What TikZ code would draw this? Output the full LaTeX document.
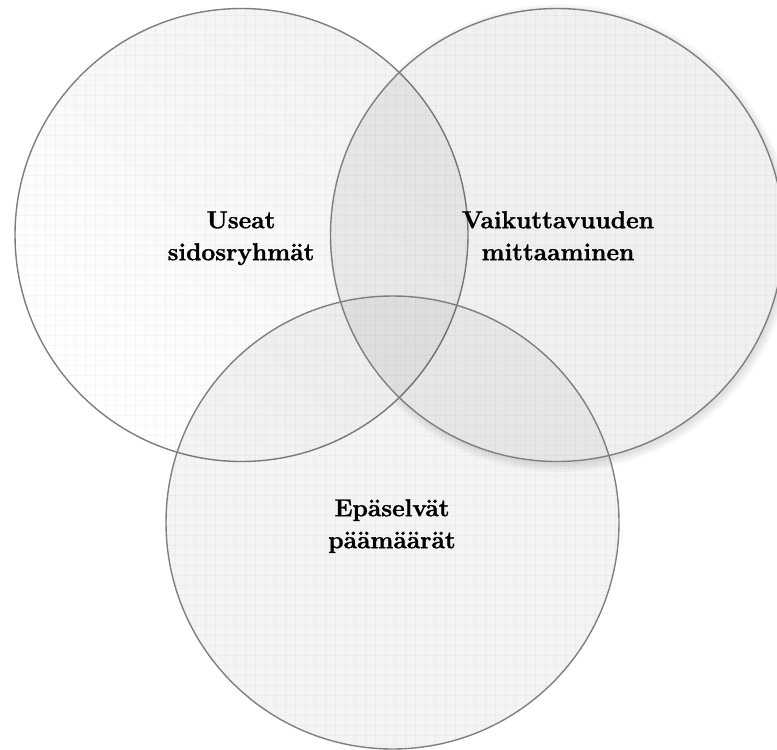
\documentclass[tikz,border=0pt]{standalone}
\usepackage{fontspec}
\setmainfont[BoldFeatures={FakeBold=1.2}]{Latin Modern Roman}
\usetikzlibrary{calc}
\definecolor{ringline}{HTML}{7F7F7F}
\begin{document}
\begin{tikzpicture}[x=1bp, y=-1bp,
  ring/.style={draw=ringline, line width=1.4bp},
  label/.style={align=center, anchor=north, inner sep=0pt,
    font=\fontsize{24.5bp}{32bp}\selectfont\bfseries}]
\useasboundingbox (0,0) rectangle (777,750);
\def\rr{226.5}
\coordinate (L) at (241.5,235);
\coordinate (R) at (557,235);
\coordinate (B) at (392.5,522.5);

% soft shadow of the right circle
\begin{scope}[even odd rule]
  \clip (-10,-10) rectangle (800,800) (R) circle[radius=\rr];
  \foreach \k in {0,1.5,...,7.5}
    \fill[black, opacity=0.018] ($(R)+(2,3)$) circle[radius=\rr+\k];
\end{scope}

% left circle: light gradient, opaque
\shade[left color=black!5, right color=white, shading angle=-45]
  (L) circle[radius=\rr];
\draw[ring] (L) circle[radius=\rr];

% translucent right and bottom circles
\fill[black, opacity=0.06] (R) circle[radius=\rr];
\fill[black, opacity=0.045] (B) circle[radius=\rr];

% faint grid texture inside the circles
\begin{scope}
  \clip (L) circle[radius=\rr] (R) circle[radius=\rr] (B) circle[radius=\rr];
  \foreach \g in {5,15,...,775}
    \draw[black, opacity=0.03, line width=0.8bp] (\g,0) -- (\g,750);
  \foreach \g in {5,15,...,745}
    \draw[black, opacity=0.03, line width=0.8bp] (0,\g) -- (777,\g);
\end{scope}

\draw[ring] (R) circle[radius=\rr];
\draw[ring] (B) circle[radius=\rr];

\node[label] (t1) at (241,205.6) {\strut Useat\\sidosryhmät};
\node[label] (t2) at (558,205.6) {\strut Vaikuttavuuden\\mittaaminen};
\node[label] (t3) at (392,493.6) {\strut Epäselvät\\päämäärät};
\end{tikzpicture}
\end{document}
